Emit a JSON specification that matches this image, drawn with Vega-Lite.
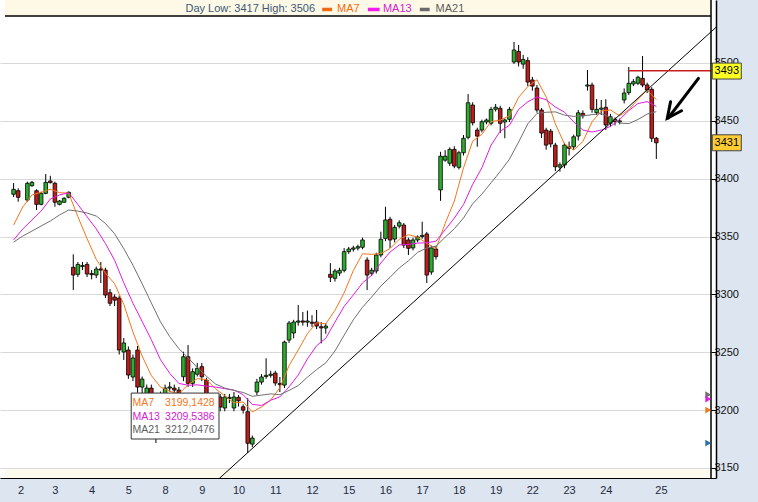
{
"$schema": "https://vega.github.io/schema/vega-lite/v6.json",
"width": 716, "height": 478,
"autosize": {"type": "none"},
"padding": {"left": 0, "top": 0, "right": 42, "bottom": 24},
"background": "#DCE5F0",
"view": {"fill": "#FFFFFF", "stroke": null},
"config": {"font": "Liberation Sans"},
"datasets": {
"candles": [
{"t":3,"o":3386.5,"h":3396.2,"l":3384.1,"c":3390.8},
{"t":4,"o":3389.6,"h":3391.7,"l":3380.1,"c":3383.9},
{"t":6,"o":3381.5,"h":3397.4,"l":3380.1,"c":3396.0},
{"t":7,"o":3393.9,"h":3398.0,"l":3393.0,"c":3396.8},
{"t":8,"o":3389.6,"h":3390.8,"l":3372.9,"c":3377.8},
{"t":9,"o":3377.8,"h":3388.7,"l":3377.0,"c":3387.3},
{"t":10,"o":3387.3,"h":3404.0,"l":3386.5,"c":3396.8},
{"t":11,"o":3398.0,"h":3402.5,"l":3395.9,"c":3396.5},
{"t":12,"o":3396.0,"h":3397.4,"l":3375.7,"c":3379.6},
{"t":13,"o":3377.8,"h":3381.5,"l":3377.0,"c":3380.7},
{"t":14,"o":3379.6,"h":3384.0,"l":3379.0,"c":3383.0},
{"t":15,"o":3383.9,"h":3389.0,"l":3383.0,"c":3388.2},
{"t":16,"o":3323.4,"h":3334.6,"l":3303.7,"c":3316.7},
{"t":17,"o":3317.3,"h":3328.0,"l":3315.0,"c":3325.9},
{"t":18,"o":3324.0,"h":3328.0,"l":3321.0,"c":3325.0},
{"t":19,"o":3325.9,"h":3328.0,"l":3315.0,"c":3317.6},
{"t":20,"o":3318.0,"h":3321.0,"l":3313.0,"c":3317.0},
{"t":21,"o":3316.7,"h":3324.0,"l":3314.0,"c":3321.9},
{"t":22,"o":3322.0,"h":3328.0,"l":3309.8,"c":3321.0},
{"t":23,"o":3321.0,"h":3323.0,"l":3296.8,"c":3299.4},
{"t":24,"o":3301.4,"h":3304.6,"l":3289.9,"c":3292.3},
{"t":25,"o":3297.7,"h":3300.0,"l":3290.0,"c":3295.0},
{"t":26,"o":3296.8,"h":3299.0,"l":3248.0,"c":3251.9},
{"t":27,"o":3250.2,"h":3262.3,"l":3243.3,"c":3258.0},
{"t":28,"o":3251.9,"h":3255.0,"l":3227.0,"c":3230.3},
{"t":29,"o":3228.6,"h":3248.0,"l":3225.0,"c":3245.0},
{"t":30,"o":3251.9,"h":3255.4,"l":3215.0,"c":3219.9},
{"t":31,"o":3219.9,"h":3229.0,"l":3213.0,"c":3226.8},
{"t":32,"o":3208.7,"h":3222.0,"l":3200.0,"c":3219.0},
{"t":33,"o":3219.0,"h":3222.0,"l":3195.0,"c":3210.4},
{"t":34,"o":3210.4,"h":3214.0,"l":3171.5,"c":3205.0},
{"t":35,"o":3205.0,"h":3216.0,"l":3200.0,"c":3213.0},
{"t":36,"o":3213.0,"h":3222.0,"l":3208.0,"c":3219.0},
{"t":37,"o":3219.0,"h":3224.2,"l":3216.0,"c":3220.0},
{"t":38,"o":3219.0,"h":3222.0,"l":3214.0,"c":3217.3},
{"t":39,"o":3217.3,"h":3220.0,"l":3210.0,"c":3214.7},
{"t":40,"o":3228.8,"h":3250.4,"l":3225.0,"c":3246.1},
{"t":41,"o":3246.1,"h":3256.2,"l":3220.0,"c":3223.1},
{"t":42,"o":3223.1,"h":3236.0,"l":3220.0,"c":3233.1},
{"t":43,"o":3231.0,"h":3240.7,"l":3229.0,"c":3236.1},
{"t":44,"o":3237.5,"h":3240.7,"l":3225.0,"c":3228.8},
{"t":45,"o":3225.9,"h":3228.0,"l":3198.0,"c":3202.3},
{"t":46,"o":3203.0,"h":3206.0,"l":3196.0,"c":3200.0},
{"t":47,"o":3200.0,"h":3208.0,"l":3197.0,"c":3205.0},
{"t":48,"o":3211.3,"h":3214.0,"l":3199.0,"c":3202.6},
{"t":49,"o":3201.8,"h":3214.0,"l":3199.0,"c":3211.3},
{"t":50,"o":3210.0,"h":3214.0,"l":3206.0,"c":3211.0},
{"t":51,"o":3201.8,"h":3215.6,"l":3199.0,"c":3211.3},
{"t":52,"o":3211.0,"h":3213.0,"l":3203.0,"c":3208.0},
{"t":53,"o":3202.9,"h":3205.0,"l":3197.0,"c":3200.0},
{"t":54,"o":3198.6,"h":3210.4,"l":3162.9,"c":3171.3},
{"t":55,"o":3170.6,"h":3178.0,"l":3168.0,"c":3175.8},
{"t":56,"o":3215.6,"h":3227.0,"l":3213.0,"c":3224.2},
{"t":57,"o":3224.2,"h":3231.0,"l":3222.0,"c":3228.6},
{"t":58,"o":3229.0,"h":3244.8,"l":3227.0,"c":3230.0},
{"t":59,"o":3230.0,"h":3234.0,"l":3228.0,"c":3231.0},
{"t":60,"o":3232.0,"h":3234.0,"l":3221.0,"c":3223.4},
{"t":61,"o":3223.0,"h":3228.6,"l":3215.6,"c":3222.0},
{"t":62,"o":3221.6,"h":3260.0,"l":3219.0,"c":3258.8},
{"t":63,"o":3260.5,"h":3277.0,"l":3258.0,"c":3275.2},
{"t":64,"o":3266.6,"h":3278.0,"l":3262.0,"c":3276.1},
{"t":65,"o":3276.0,"h":3290.8,"l":3273.0,"c":3277.0},
{"t":66,"o":3277.0,"h":3284.8,"l":3273.0,"c":3276.0},
{"t":67,"o":3276.0,"h":3286.0,"l":3272.0,"c":3277.0},
{"t":68,"o":3276.0,"h":3282.0,"l":3272.0,"c":3275.0},
{"t":69,"o":3276.1,"h":3286.5,"l":3270.0,"c":3272.6},
{"t":70,"o":3272.0,"h":3276.0,"l":3257.6,"c":3271.0},
{"t":71,"o":3270.9,"h":3275.0,"l":3266.0,"c":3272.6},
{"t":72,"o":3317.3,"h":3327.0,"l":3310.7,"c":3314.7},
{"t":73,"o":3313.9,"h":3322.0,"l":3311.0,"c":3320.2},
{"t":74,"o":3318.4,"h":3323.0,"l":3316.0,"c":3320.8},
{"t":75,"o":3320.8,"h":3340.0,"l":3319.0,"c":3336.9},
{"t":76,"o":3336.9,"h":3341.0,"l":3335.0,"c":3339.2},
{"t":77,"o":3339.0,"h":3342.0,"l":3337.0,"c":3340.1},
{"t":78,"o":3340.0,"h":3343.0,"l":3338.0,"c":3341.2},
{"t":79,"o":3340.7,"h":3349.0,"l":3339.0,"c":3347.0},
{"t":80,"o":3329.7,"h":3332.0,"l":3303.7,"c":3316.7},
{"t":81,"o":3318.2,"h":3323.0,"l":3316.0,"c":3320.8},
{"t":82,"o":3320.2,"h":3336.0,"l":3318.0,"c":3334.0},
{"t":83,"o":3334.0,"h":3354.2,"l":3332.0,"c":3347.6},
{"t":84,"o":3348.4,"h":3375.7,"l":3346.0,"c":3364.3},
{"t":85,"o":3364.9,"h":3367.0,"l":3340.1,"c":3347.0},
{"t":86,"o":3347.8,"h":3360.0,"l":3345.0,"c":3357.9},
{"t":87,"o":3359.0,"h":3364.0,"l":3357.0,"c":3361.9},
{"t":88,"o":3359.9,"h":3361.7,"l":3340.0,"c":3342.6},
{"t":89,"o":3347.0,"h":3349.0,"l":3334.0,"c":3339.8},
{"t":90,"o":3340.1,"h":3349.0,"l":3338.0,"c":3347.0},
{"t":91,"o":3347.0,"h":3351.0,"l":3345.0,"c":3349.6},
{"t":92,"o":3350.0,"h":3362.8,"l":3348.0,"c":3351.0},
{"t":93,"o":3352.2,"h":3354.0,"l":3309.8,"c":3316.7},
{"t":94,"o":3319.3,"h":3342.0,"l":3317.0,"c":3340.1},
{"t":95,"o":3339.2,"h":3342.0,"l":3330.0,"c":3332.6},
{"t":96,"o":3390.2,"h":3423.2,"l":3380.8,"c":3419.4},
{"t":97,"o":3416.0,"h":3424.7,"l":3414.6,"c":3419.4},
{"t":98,"o":3413.3,"h":3427.0,"l":3411.0,"c":3425.3},
{"t":99,"o":3425.3,"h":3428.0,"l":3409.0,"c":3410.9},
{"t":100,"o":3409.8,"h":3424.0,"l":3408.0,"c":3422.4},
{"t":101,"o":3422.4,"h":3437.7,"l":3420.0,"c":3434.9},
{"t":102,"o":3435.7,"h":3473.1,"l":3434.0,"c":3465.6},
{"t":103,"o":3463.6,"h":3466.0,"l":3446.0,"c":3448.3},
{"t":104,"o":3442.0,"h":3444.0,"l":3427.6,"c":3436.8},
{"t":105,"o":3442.0,"h":3451.0,"l":3440.0,"c":3449.2},
{"t":106,"o":3449.0,"h":3452.0,"l":3447.0,"c":3450.7},
{"t":107,"o":3447.8,"h":3462.0,"l":3446.0,"c":3459.9},
{"t":108,"o":3460.0,"h":3464.5,"l":3458.0,"c":3461.7},
{"t":109,"o":3460.8,"h":3463.0,"l":3439.4,"c":3447.8},
{"t":110,"o":3449.0,"h":3452.0,"l":3434.9,"c":3450.7},
{"t":111,"o":3451.3,"h":3462.0,"l":3449.0,"c":3459.9},
{"t":112,"o":3500.8,"h":3518.1,"l":3499.1,"c":3511.2},
{"t":113,"o":3510.0,"h":3515.5,"l":3497.0,"c":3500.8},
{"t":114,"o":3499.0,"h":3507.0,"l":3495.0,"c":3503.0},
{"t":115,"o":3502.0,"h":3505.0,"l":3480.0,"c":3483.5},
{"t":116,"o":3485.3,"h":3488.0,"l":3476.0,"c":3480.0},
{"t":117,"o":3478.3,"h":3481.0,"l":3457.0,"c":3459.3},
{"t":118,"o":3459.3,"h":3461.0,"l":3435.1,"c":3439.4},
{"t":119,"o":3442.0,"h":3444.0,"l":3425.0,"c":3429.0},
{"t":120,"o":3441.0,"h":3443.0,"l":3427.0,"c":3430.0},
{"t":121,"o":3429.0,"h":3431.0,"l":3406.6,"c":3410.3},
{"t":122,"o":3410.0,"h":3414.0,"l":3406.0,"c":3412.0},
{"t":123,"o":3411.8,"h":3431.0,"l":3409.0,"c":3429.0},
{"t":124,"o":3427.6,"h":3432.0,"l":3420.0,"c":3426.2},
{"t":125,"o":3427.6,"h":3438.0,"l":3425.0,"c":3436.2},
{"t":126,"o":3436.8,"h":3459.3,"l":3433.0,"c":3456.9},
{"t":127,"o":3456.4,"h":3459.0,"l":3452.0,"c":3454.4},
{"t":128,"o":3480.0,"h":3493.9,"l":3476.0,"c":3481.0},
{"t":129,"o":3480.9,"h":3483.0,"l":3457.0,"c":3459.9},
{"t":130,"o":3457.0,"h":3468.8,"l":3455.0,"c":3459.9},
{"t":131,"o":3460.0,"h":3468.0,"l":3455.0,"c":3461.0},
{"t":132,"o":3461.6,"h":3468.6,"l":3442.0,"c":3446.4},
{"t":133,"o":3447.8,"h":3456.0,"l":3445.0,"c":3453.5},
{"t":134,"o":3451.3,"h":3453.0,"l":3446.0,"c":3449.2},
{"t":135,"o":3449.0,"h":3452.0,"l":3447.0,"c":3450.0},
{"t":136,"o":3468.0,"h":3478.0,"l":3465.0,"c":3474.0},
{"t":137,"o":3474.3,"h":3496.5,"l":3472.3,"c":3482.4},
{"t":138,"o":3481.8,"h":3486.0,"l":3480.0,"c":3483.8},
{"t":139,"o":3482.4,"h":3489.0,"l":3481.0,"c":3487.6},
{"t":140,"o":3486.7,"h":3506.0,"l":3479.0,"c":3480.9},
{"t":141,"o":3481.0,"h":3483.0,"l":3474.0,"c":3476.6},
{"t":142,"o":3477.2,"h":3479.0,"l":3431.7,"c":3434.9},
{"t":143,"o":3434.9,"h":3436.0,"l":3417.0,"c":3431.0}
],
"ma": [
{"t":3,"MA7":3359.9,"MA13":3347.0,"MA21":3345.2},
{"t":5,"MA7":3375.5,"MA13":3356.5,"MA21":3350.4},
{"t":7,"MA7":3385.9,"MA13":3364.3,"MA21":3354.7},
{"t":9,"MA7":3388.2,"MA13":3372.0,"MA21":3359.1},
{"t":11,"MA7":3390.9,"MA13":3382.4,"MA21":3363.4},
{"t":13,"MA7":3387.9,"MA13":3385.9,"MA21":3368.6},
{"t":15,"MA7":3387.4,"MA13":3387.9,"MA21":3372.9},
{"t":17,"MA7":3367.2,"MA13":3377.7,"MA21":3372.0},
{"t":19,"MA7":3348.2,"MA13":3367.1,"MA21":3370.3},
{"t":21,"MA7":3330.3,"MA13":3356.6,"MA21":3367.7},
{"t":23,"MA7":3318.3,"MA13":3344.0,"MA21":3361.3},
{"t":25,"MA7":3309.2,"MA13":3329.5,"MA21":3352.4},
{"t":27,"MA7":3291.4,"MA13":3310.0,"MA21":3339.5},
{"t":29,"MA7":3267.4,"MA13":3292.3,"MA21":3325.2},
{"t":31,"MA7":3246.7,"MA13":3276.6,"MA21":3309.1},
{"t":33,"MA7":3229.9,"MA13":3260.8,"MA21":3292.6},
{"t":35,"MA7":3219.9,"MA13":3243.5,"MA21":3276.2},
{"t":37,"MA7":3216.2,"MA13":3231.8,"MA21":3263.5},
{"t":39,"MA7":3214.2,"MA13":3223.0,"MA21":3253.1},
{"t":41,"MA7":3221.9,"MA13":3221.5,"MA21":3245.2},
{"t":43,"MA7":3227.2,"MA13":3221.8,"MA21":3236.9},
{"t":45,"MA7":3226.3,"MA13":3220.7,"MA21":3229.3},
{"t":47,"MA7":3218.3,"MA13":3219.9,"MA21":3222.5},
{"t":49,"MA7":3212.3,"MA13":3218.5,"MA21":3219.0},
{"t":51,"MA7":3206.2,"MA13":3217.3,"MA21":3217.0},
{"t":53,"MA7":3207.0,"MA13":3213.3,"MA21":3215.2},
{"t":55,"MA7":3198.4,"MA13":3204.9,"MA21":3211.9},
{"t":57,"MA7":3202.7,"MA13":3204.0,"MA21":3212.9},
{"t":59,"MA7":3208.7,"MA13":3208.5,"MA21":3214.0},
{"t":61,"MA7":3219.3,"MA13":3211.4,"MA21":3213.3},
{"t":63,"MA7":3238.4,"MA13":3220.0,"MA21":3217.0},
{"t":65,"MA7":3251.9,"MA13":3230.3,"MA21":3221.2},
{"t":67,"MA7":3266.0,"MA13":3244.2,"MA21":3228.4},
{"t":69,"MA7":3275.6,"MA13":3255.6,"MA21":3235.0},
{"t":71,"MA7":3274.5,"MA13":3262.1,"MA21":3240.8},
{"t":73,"MA7":3286.2,"MA13":3276.0,"MA21":3251.1},
{"t":75,"MA7":3301.3,"MA13":3289.6,"MA21":3264.7},
{"t":77,"MA7":3320.6,"MA13":3299.5,"MA21":3278.0},
{"t":79,"MA7":3335.1,"MA13":3309.9,"MA21":3288.9},
{"t":81,"MA7":3334.6,"MA13":3316.5,"MA21":3297.7},
{"t":83,"MA7":3335.3,"MA13":3327.1,"MA21":3307.2},
{"t":85,"MA7":3339.6,"MA13":3336.6,"MA21":3314.8},
{"t":87,"MA7":3347.6,"MA13":3342.7,"MA21":3322.8},
{"t":89,"MA7":3351.6,"MA13":3343.2,"MA21":3329.0},
{"t":91,"MA7":3349.4,"MA13":3344.3,"MA21":3336.3},
{"t":93,"MA7":3344.1,"MA13":3344.6,"MA21":3340.1},
{"t":95,"MA7":3339.5,"MA13":3346.0,"MA21":3341.6},
{"t":97,"MA7":3361.3,"MA13":3355.8,"MA21":3349.4},
{"t":99,"MA7":3380.6,"MA13":3365.9,"MA21":3356.7},
{"t":101,"MA7":3409.3,"MA13":3377.6,"MA21":3366.0},
{"t":103,"MA7":3432.4,"MA13":3395.1,"MA21":3378.3},
{"t":105,"MA7":3438.3,"MA13":3409.4,"MA21":3386.6},
{"t":107,"MA7":3449.3,"MA13":3428.9,"MA21":3396.4},
{"t":109,"MA7":3450.6,"MA13":3441.0,"MA21":3406.2},
{"t":111,"MA7":3454.3,"MA13":3446.1,"MA21":3416.8},
{"t":113,"MA7":3470.3,"MA13":3459.8,"MA21":3431.6},
{"t":115,"MA7":3479.6,"MA13":3466.4,"MA21":3447.3},
{"t":117,"MA7":3485.4,"MA13":3470.6,"MA21":3456.3},
{"t":119,"MA7":3470.7,"MA13":3468.2,"MA21":3457.4},
{"t":121,"MA7":3447.4,"MA13":3461.9,"MA21":3457.7},
{"t":123,"MA7":3429.9,"MA13":3457.5,"MA21":3454.9},
{"t":125,"MA7":3424.7,"MA13":3449.1,"MA21":3453.8},
{"t":127,"MA7":3432.1,"MA13":3442.0,"MA21":3454.3},
{"t":129,"MA7":3449.1,"MA13":3440.3,"MA21":3455.3},
{"t":131,"MA7":3458.5,"MA13":3442.0,"MA21":3456.3},
{"t":133,"MA7":3459.4,"MA13":3445.1,"MA21":3452.9},
{"t":135,"MA7":3454.3,"MA13":3451.1,"MA21":3448.0},
{"t":137,"MA7":3459.5,"MA13":3458.8,"MA21":3447.6},
{"t":139,"MA7":3468.6,"MA13":3464.9,"MA21":3451.1},
{"t":141,"MA7":3476.5,"MA13":3466.6,"MA21":3455.8},
{"t":143,"MA7":3468.2,"MA13":3462.4,"MA21":3457.9}
],
"trend": [{"t":46,"p":3134.4},{"t":156,"p":3530.8}],
"arrowShaft": [{"t":152.18,"p":3486.7},{"t":145.6,"p":3452.4}],
"arrowHead": [{"k":1,"t":146.1,"p":3466.5},{"k":2,"t":145.39,"p":3452.2},{"k":3,"t":148.5,"p":3458.7}],
"markers": [{"s":"MA21","v":3213.3},{"s":"MA13","v":3209.5},{"s":"MA7","v":3200.0},{"s":"Cursor","v":3171.5}],
"tags": [{"price":3493,"label":"3493","kind":"level"},{"price":3431,"label":"3431","kind":"last"}]
},
"layer": [
{"data":{"values":[{}]},"mark":{"type":"rect","fill":"#FDF9E6"},
 "encoding":{
 "x":{"datum":1.127,"type":"quantitative","scale":{"domain":[1.127,154.91],"nice":false,"zero":false}},
 "x2":{"datum":154.91},
 "y":{"datum":3540.6,"type":"quantitative","scale":{"domain":[3141.3,3554.4],"nice":false,"zero":false}},
 "y2":{"datum":3554.4}}},
{"data":{"values":[{}]},"mark":{"type":"rect","fill":"#FCFAEC"},
 "encoding":{
 "x":{"datum":1.127,"type":"quantitative","scale":{"domain":[1.127,154.91],"nice":false,"zero":false}},
 "x2":{"datum":154.91},
 "y":{"datum":3141.3,"type":"quantitative","scale":{"domain":[3141.3,3554.4],"nice":false,"zero":false}},
 "y2":{"datum":3148.6}}},
{"data":{"values":[{}]},"mark":{"type":"rule","color":"#000000","strokeWidth":1.4},
 "encoding":{
 "x":{"datum":1.127,"type":"quantitative","scale":{"domain":[1.127,154.91],"nice":false,"zero":false}},
 "x2":{"datum":154.91},
 "y":{"datum":3540.6,"type":"quantitative","scale":{"domain":[3141.3,3554.4],"nice":false,"zero":false}}}},
{"data":{"name":"candles"},"mark":{"type":"rule","color":"#000000","strokeWidth":1},
 "encoding":{
 "x":{"field":"t","type":"quantitative","scale":{"domain":[1.127,154.91],"nice":false,"zero":false}},
 "y":{"field":"l","type":"quantitative","scale":{"domain":[3141.3,3554.4],"nice":false,"zero":false}},
 "y2":{"field":"h"}}},
{"data":{"name":"candles"},"mark":{"type":"bar","width":3.6,"stroke":"#000000","strokeWidth":0.8},
 "encoding":{
 "x":{"field":"t","type":"quantitative","scale":{"domain":[1.127,154.91],"nice":false,"zero":false},
  "axis":{"orient":"bottom",
   "values":[4.5,8,12,16,20,24,28,32,36,40,44,48,52,56,60,64,68,72,76,80,84,88,92,96,100,104,108,112,116,120,124,128,132,136,144,152],
   "labelExpr":"datum.value == 4.5 ? '2' : datum.value == 144 ? '25' : (datum.value % 8 == 4 ? ['3','4','5','8','9','10','11','12','15','16','17','18','19','22','23','24'][(datum.value - 12) / 8] : '')",
   "grid":true,"gridColor":"#A4A4A4","gridWidth":1.5,
   "gridOpacity":{"condition":{"test":"datum.value % 8 == 0 && datum.value != 144","value":1},"value":0},
   "ticks":true,"tickSize":4,"tickColor":"#000000",
   "tickOpacity":{"condition":{"test":"datum.value % 8 == 0 && datum.value != 144","value":1},"value":0},
   "domainColor":"#000000","domainWidth":1,
   "labelFontSize":11,"labelColor":"#1F2B3D","labelPadding":2,"labelFlush":false,"labelOverlap":false,"labelBound":false,
   "title":"Jun","titleFontSize":11,"titleFontWeight":"normal","titleColor":"#1F2B3D","titlePadding":5}},
 "y":{"field":"o","type":"quantitative","scale":{"domain":[3141.3,3554.4],"nice":false,"zero":false},
  "axis":{"orient":"right",
   "values":[3150,3175,3200,3225,3250,3275,3300,3325,3350,3375,3400,3425,3450,3475,3500,3525],
   "format":"d",
   "labelExpr":"datum.value % 50 == 0 ? datum.label : ''",
   "grid":true,"gridColor":"#D9D9D9","gridWidth":1,
   "gridOpacity":{"condition":{"test":"datum.value % 50 == 0","value":1},"value":0},
   "tickSize":-5,"tickColor":"#000000",
   "domainColor":"#000000","domainWidth":1.5,
   "labelFontSize":11,"labelColor":"#111111","labelPadding":3,"labelFlush":false,"labelOverlap":false,
   "title":null}},
 "y2":{"field":"c"},
 "fill":{"condition":{"test":"datum.c >= datum.o","value":"#2BAE2B"},"value":"#BE1B1B"}}},
{"data":{"name":"ma"},"transform":[{"fold":["MA7","MA13","MA21"],"as":["s","v"]}],
 "mark":{"type":"line","strokeWidth":1,"clip":true},
 "encoding":{
 "x":{"field":"t","type":"quantitative","scale":{"domain":[1.127,154.91],"nice":false,"zero":false}},
 "y":{"field":"v","type":"quantitative","scale":{"domain":[3141.3,3554.4],"nice":false,"zero":false}},
 "color":{"field":"s","type":"nominal","scale":{"domain":["MA7","MA13","MA21","Cursor"],"range":["#F5761A","#E21BE2","#707070","#2F6EA8"]},"legend":null}}},
{"data":{"name":"trend"},"mark":{"type":"line","color":"#000000","strokeWidth":1,"clip":true},
 "encoding":{
 "x":{"field":"t","type":"quantitative","scale":{"domain":[1.127,154.91],"nice":false,"zero":false}},
 "y":{"field":"p","type":"quantitative","scale":{"domain":[3141.3,3554.4],"nice":false,"zero":false}}}},
{"data":{"values":[{}]},"mark":{"type":"rule","color":"#C81E1E","strokeWidth":1.5},
 "encoding":{
 "x":{"datum":136.8,"type":"quantitative","scale":{"domain":[1.127,154.91],"nice":false,"zero":false}},
 "x2":{"datum":154.91},
 "y":{"datum":3493.3,"type":"quantitative","scale":{"domain":[3141.3,3554.4],"nice":false,"zero":false}}}},
{"data":{"name":"arrowShaft"},"mark":{"type":"line","color":"#000000","strokeWidth":3,"strokeCap":"round"},
 "encoding":{
 "x":{"field":"t","type":"quantitative","scale":{"domain":[1.127,154.91],"nice":false,"zero":false}},
 "y":{"field":"p","type":"quantitative","scale":{"domain":[3141.3,3554.4],"nice":false,"zero":false}}}},
{"data":{"name":"arrowHead"},"mark":{"type":"line","color":"#000000","strokeWidth":3,"strokeCap":"round","strokeJoin":"miter"},
 "encoding":{
 "x":{"field":"t","type":"quantitative","scale":{"domain":[1.127,154.91],"nice":false,"zero":false}},
 "y":{"field":"p","type":"quantitative","scale":{"domain":[3141.3,3554.4],"nice":false,"zero":false}},
 "order":{"field":"k","type":"quantitative"}}},
{"data":{"values":[{}]},"mark":{"type":"rect","fill":"#FFFFFF","stroke":"#333333","strokeWidth":1},
 "encoding":{
 "x":{"datum":28.62,"type":"quantitative","scale":{"domain":[1.127,154.91],"nice":false,"zero":false}},
 "x2":{"datum":47.74},
 "y":{"datum":3175.0,"type":"quantitative","scale":{"domain":[3141.3,3554.4],"nice":false,"zero":false}},
 "y2":{"datum":3214.7}}},
{"data":{"values":[{}]},"mark":{"type":"text","align":"left","baseline":"middle","fontSize":10.5,"color":"#F5761A","text":"MA7"},
 "encoding":{
 "x":{"datum":28.9,"type":"quantitative","scale":{"domain":[1.127,154.91],"nice":false,"zero":false}},
 "y":{"datum":3206.3,"type":"quantitative","scale":{"domain":[3141.3,3554.4],"nice":false,"zero":false}}}},
{"data":{"values":[{}]},"mark":{"type":"text","align":"right","baseline":"middle","fontSize":10.5,"color":"#F5761A","text":"3199,1428"},
 "encoding":{
 "x":{"datum":46.8,"type":"quantitative","scale":{"domain":[1.127,154.91],"nice":false,"zero":false}},
 "y":{"datum":3206.3,"type":"quantitative","scale":{"domain":[3141.3,3554.4],"nice":false,"zero":false}}}},
{"data":{"values":[{}]},"mark":{"type":"text","align":"left","baseline":"middle","fontSize":10.5,"color":"#D21CD2","text":"MA13"},
 "encoding":{
 "x":{"datum":28.9,"type":"quantitative","scale":{"domain":[1.127,154.91],"nice":false,"zero":false}},
 "y":{"datum":3194.2,"type":"quantitative","scale":{"domain":[3141.3,3554.4],"nice":false,"zero":false}}}},
{"data":{"values":[{}]},"mark":{"type":"text","align":"right","baseline":"middle","fontSize":10.5,"color":"#D21CD2","text":"3209,5386"},
 "encoding":{
 "x":{"datum":46.8,"type":"quantitative","scale":{"domain":[1.127,154.91],"nice":false,"zero":false}},
 "y":{"datum":3194.2,"type":"quantitative","scale":{"domain":[3141.3,3554.4],"nice":false,"zero":false}}}},
{"data":{"values":[{}]},"mark":{"type":"text","align":"left","baseline":"middle","fontSize":10.5,"color":"#5E5E5E","text":"MA21"},
 "encoding":{
 "x":{"datum":28.9,"type":"quantitative","scale":{"domain":[1.127,154.91],"nice":false,"zero":false}},
 "y":{"datum":3182.7,"type":"quantitative","scale":{"domain":[3141.3,3554.4],"nice":false,"zero":false}}}},
{"data":{"values":[{}]},"mark":{"type":"text","align":"right","baseline":"middle","fontSize":10.5,"color":"#5E5E5E","text":"3212,0476"},
 "encoding":{
 "x":{"datum":46.8,"type":"quantitative","scale":{"domain":[1.127,154.91],"nice":false,"zero":false}},
 "y":{"datum":3182.7,"type":"quantitative","scale":{"domain":[3141.3,3554.4],"nice":false,"zero":false}}}},
{"data":{"values":[{}]},"mark":{"type":"text","align":"left","baseline":"middle","fontSize":11,"color":"#3B5878","text":"Day Low: 3417 High: 3506"},
 "encoding":{
 "x":{"datum":40.43,"type":"quantitative","scale":{"domain":[1.127,154.91],"nice":false,"zero":false}},
 "y":{"datum":3546.8,"type":"quantitative","scale":{"domain":[3141.3,3554.4],"nice":false,"zero":false}}}},
{"data":{"values":[{}]},"mark":{"type":"rule","color":"#F26A10","strokeWidth":3.5},
 "encoding":{
 "x":{"datum":70.22,"type":"quantitative","scale":{"domain":[1.127,154.91],"nice":false,"zero":false}},
 "x2":{"datum":72.37},
 "y":{"datum":3546.2,"type":"quantitative","scale":{"domain":[3141.3,3554.4],"nice":false,"zero":false}}}},
{"data":{"values":[{}]},"mark":{"type":"rule","color":"#F01CF0","strokeWidth":3.5},
 "encoding":{
 "x":{"datum":80.17,"type":"quantitative","scale":{"domain":[1.127,154.91],"nice":false,"zero":false}},
 "x2":{"datum":82.74},
 "y":{"datum":3546.2,"type":"quantitative","scale":{"domain":[3141.3,3554.4],"nice":false,"zero":false}}}},
{"data":{"values":[{}]},"mark":{"type":"rule","color":"#6A6A6A","strokeWidth":3.5},
 "encoding":{
 "x":{"datum":91.48,"type":"quantitative","scale":{"domain":[1.127,154.91],"nice":false,"zero":false}},
 "x2":{"datum":93.63},
 "y":{"datum":3546.2,"type":"quantitative","scale":{"domain":[3141.3,3554.4],"nice":false,"zero":false}}}},
{"data":{"values":[{}]},"mark":{"type":"text","align":"left","baseline":"middle","fontSize":11,"color":"#F26A10","text":"MA7"},
 "encoding":{
 "x":{"datum":73.44,"type":"quantitative","scale":{"domain":[1.127,154.91],"nice":false,"zero":false}},
 "y":{"datum":3546.8,"type":"quantitative","scale":{"domain":[3141.3,3554.4],"nice":false,"zero":false}}}},
{"data":{"values":[{}]},"mark":{"type":"text","align":"left","baseline":"middle","fontSize":11,"color":"#D21CD2","text":"MA13"},
 "encoding":{
 "x":{"datum":83.45,"type":"quantitative","scale":{"domain":[1.127,154.91],"nice":false,"zero":false}},
 "y":{"datum":3546.8,"type":"quantitative","scale":{"domain":[3141.3,3554.4],"nice":false,"zero":false}}}},
{"data":{"values":[{}]},"mark":{"type":"text","align":"left","baseline":"middle","fontSize":11,"color":"#5E5E5E","text":"MA21"},
 "encoding":{
 "x":{"datum":94.92,"type":"quantitative","scale":{"domain":[1.127,154.91],"nice":false,"zero":false}},
 "y":{"datum":3546.8,"type":"quantitative","scale":{"domain":[3141.3,3554.4],"nice":false,"zero":false}}}},
{"data":{"values":[{}]},"mark":{"type":"rule","color":"#000000","strokeWidth":1.5},
 "encoding":{
 "x":{"datum":154.91,"type":"quantitative","scale":{"domain":[1.127,154.91],"nice":false,"zero":false}},
 "y":{"datum":3141.3,"type":"quantitative","scale":{"domain":[3141.3,3554.4],"nice":false,"zero":false}},
 "y2":{"datum":3554.4}}},
{"data":{"name":"markers"},"mark":{"type":"point","shape":"triangle-right","filled":true,"size":45,"opacity":1},
 "encoding":{
 "x":{"datum":154.3,"type":"quantitative","scale":{"domain":[1.127,154.91],"nice":false,"zero":false}},
 "y":{"field":"v","type":"quantitative","scale":{"domain":[3141.3,3554.4],"nice":false,"zero":false}},
 "color":{"field":"s","type":"nominal","scale":{"domain":["MA7","MA13","MA21","Cursor"],"range":["#F5761A","#E21BE2","#707070","#2F6EA8"]},"legend":null}}},
{"data":{"name":"tags"},"mark":{"type":"point","shape":"M-1,-0.55H1V0.55H-1Z","filled":true,"size":841,"opacity":1,"stroke":"#444444","strokeWidth":1},
 "encoding":{
 "x":{"datum":158.35,"type":"quantitative","scale":{"domain":[1.127,154.91],"nice":false,"zero":false}},
 "y":{"field":"price","type":"quantitative","scale":{"domain":[3141.3,3554.4],"nice":false,"zero":false}},
 "fill":{"field":"kind","type":"nominal","scale":{"domain":["level","last"],"range":["#FFFF22","#FFCC33"]},"legend":null}}},
{"data":{"name":"tags"},"mark":{"type":"text","align":"center","baseline":"middle","fontSize":11,"color":"#000000"},
 "encoding":{
 "x":{"datum":158.35,"type":"quantitative","scale":{"domain":[1.127,154.91],"nice":false,"zero":false}},
 "y":{"field":"price","type":"quantitative","scale":{"domain":[3141.3,3554.4],"nice":false,"zero":false}},
 "text":{"field":"label"}}}
]
}
